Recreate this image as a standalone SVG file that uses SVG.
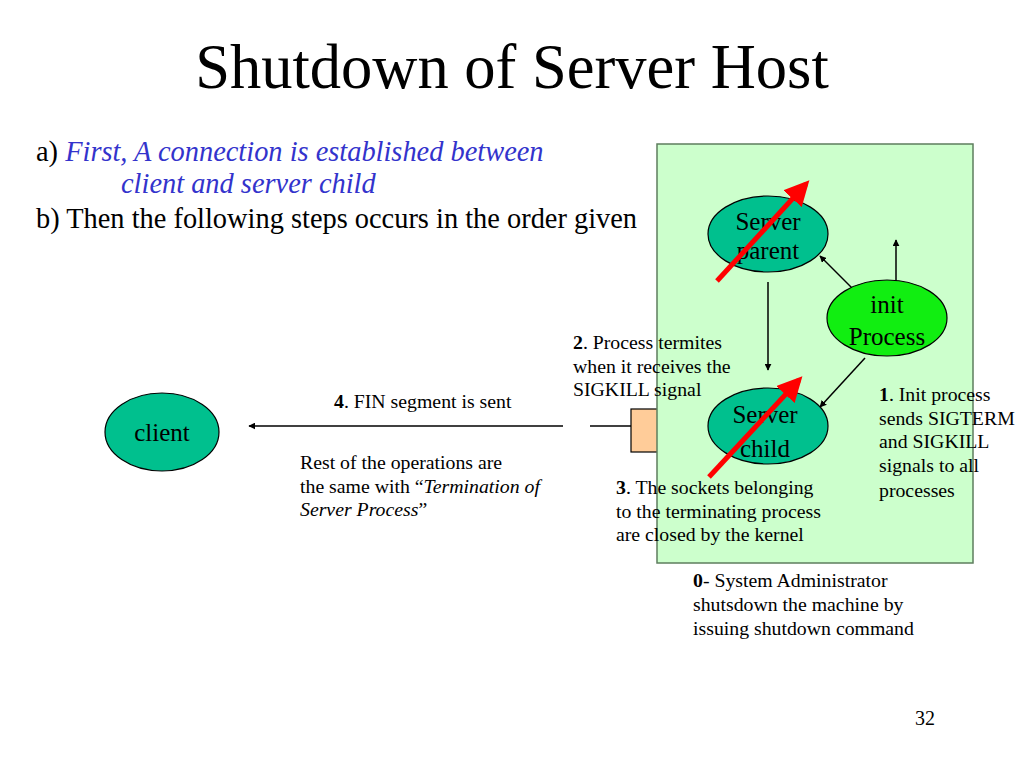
<svg xmlns="http://www.w3.org/2000/svg" width="1024" height="768" viewBox="0 0 1024 768">
<defs>
<style>
.t{font-family:"Liberation Serif","Times New Roman",serif;fill:#000}
.s{font-size:19.8px}
.n{font-size:25px;text-anchor:middle}
.blue{fill:#3333CC;font-style:italic}
.ln{stroke:#000;stroke-width:1.5;fill:none}
.red{stroke:#FF0000;stroke-width:5;fill:none}
.teal{fill:#00C08E;stroke:#000;stroke-width:1.2}
</style>
<marker id="ah" viewBox="0 0 10 10" refX="9" refY="5" markerWidth="7" markerHeight="7" markerUnits="userSpaceOnUse" orient="auto"><path d="M0,0 L10,5 L0,10 z" fill="#000"/></marker>
<marker id="rh" viewBox="0 0 10 10" refX="8" refY="5" markerWidth="5" markerHeight="5" orient="auto"><path d="M0,0 L10,5 L0,10 z" fill="#FF0000"/></marker>
</defs>
<rect width="1024" height="768" fill="#fff"/>
<text class="t" x="512" y="88" font-size="62.5" text-anchor="middle">Shutdown of Server Host</text>
<text class="t" x="36" y="161" font-size="28.4">a) <tspan class="blue">First, A connection is established between</tspan></text>
<text class="t blue" x="121" y="193" font-size="28.4">client and server child</text>
<text class="t" x="36" y="228" font-size="28.4">b) Then the following steps occurs in the order given</text>

<g id="socket"><rect x="631" y="409" width="30" height="43" fill="#FFCC99" stroke="#000" stroke-width="1.2"/></g>
<g id="host"><rect x="657" y="144" width="316" height="419" fill="#CCFFCC" stroke="#5E7E5E" stroke-width="1.5"/></g>

<g id="connectors">
<line class="ln" x1="563" y1="426" x2="249" y2="426" marker-end="url(#ah)"/>
<line class="ln" x1="590" y1="426" x2="631" y2="426"/>
<line class="ln" x1="768" y1="282" x2="768" y2="370" marker-end="url(#ah)"/>
<line class="ln" x1="852" y1="288" x2="820" y2="256" marker-end="url(#ah)"/>
<line class="ln" x1="865" y1="358" x2="820" y2="407" marker-end="url(#ah)"/>
<line class="ln" x1="896" y1="282" x2="896" y2="240" marker-end="url(#ah)"/>
</g>

<g id="server-parent"><ellipse class="teal" cx="768" cy="234" rx="60" ry="38"/>
<text class="t n" x="768" y="230" font-size="26">Server</text><text class="t n" x="768" y="259" font-size="26">parent</text></g>
<g id="init"><ellipse cx="887" cy="318" rx="60" ry="38" fill="#11EE11" stroke="#000" stroke-width="1.2"/>
<text class="t n" x="887" y="313">init</text><text class="t n" x="887" y="345">Process</text></g>
<g id="server-child"><ellipse class="teal" cx="768" cy="426" rx="60" ry="38"/>
<text class="t n" x="765" y="423" font-size="28">Server</text><text class="t n" x="765" y="457" font-size="28">child</text></g>
<g id="client"><ellipse class="teal" cx="162" cy="432" rx="57" ry="39"/>
<text class="t n" x="162" y="441" font-size="28">client</text></g>

<g id="kill-marks">
<line class="red" x1="717" y1="281" x2="806" y2="184" marker-end="url(#rh)"/>
<line class="red" x1="709" y1="477" x2="799" y2="380" marker-end="url(#rh)"/>
</g>

<g id="labels">
<text class="t s" x="334" y="408"><tspan font-weight="bold">4</tspan>. FIN segment is sent</text>
<text class="t s" x="300" y="469">Rest of the operations are</text>
<text class="t s" x="300" y="493">the same with  “<tspan font-style="italic">Termination of</tspan></text>
<text class="t s" x="300" y="516"><tspan font-style="italic">Server Process</tspan>”</text>
<text class="t s" x="573" y="349"><tspan font-weight="bold">2</tspan>. Process termites</text>
<text class="t s" x="573" y="373">when it receives the</text>
<text class="t s" x="573" y="396">SIGKILL signal</text>
<text class="t s" x="879" y="401"><tspan font-weight="bold">1</tspan>. Init process</text>
<text class="t s" x="879" y="425">sends SIGTERM</text>
<text class="t s" x="879" y="448">and SIGKILL</text>
<text class="t s" x="879" y="472">signals to all</text>
<text class="t s" x="879" y="497">processes</text>
<text class="t s" x="616" y="494"><tspan font-weight="bold">3</tspan>. The sockets belonging</text>
<text class="t s" x="616" y="518">to the terminating process</text>
<text class="t s" x="616" y="541">are closed by the kernel</text>
<text class="t s" x="693" y="587"><tspan font-weight="bold">0</tspan>- System Administrator</text>
<text class="t s" x="693" y="611">shutsdown the machine by</text>
<text class="t s" x="693" y="635">issuing shutdown command</text>
<text class="t" x="915" y="725" font-size="20">32</text>
</g>
</svg>
